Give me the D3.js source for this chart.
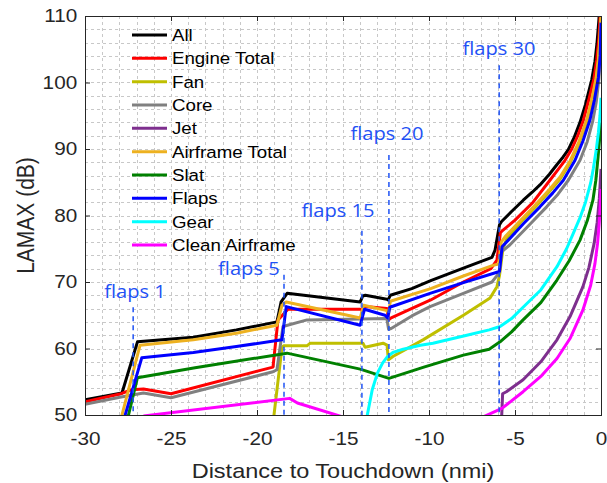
<!DOCTYPE html>
<html>
<head>
<meta charset="utf-8">
<script src="https://cdn.jsdelivr.net/npm/d3@7"></script>
<style>
  body { margin: 0; background: #fff; }
  text { font-family: "Liberation Sans", Arial, sans-serif; fill: #262626; }
</style>
</head>
<body>
<div id="chart"></div>
<script>
// LAMAX (dB) vs distance to touchdown (nmi)
var all = [[-30, 52.3], [-27.85, 53.3], [-26.95, 61.0], [-23.7, 61.7], [-21.2, 62.8], [-18.84, 64.0],
  [-18.6, 67.0], [-18.25, 68.3], [-14.0, 67.0], [-13.85, 67.9], [-13.7, 68.0], [-12.45, 67.4],
  [-12.38, 67.3], [-12.25, 68.0], [-11.0, 69.0], [-9.9, 70.2], [-8.0, 72.1], [-6.34, 73.7],
  [-6.16, 74.8], [-5.9, 78.6], [-5.78, 79.1], [-5.2, 80.6], [-4.52, 82.3], [-4.0, 83.5], [-3.55, 84.6],
  [-3.0, 86.2], [-2.58, 87.6], [-2.2, 88.8], [-1.9, 89.9], [-1.55, 91.8], [-1.22, 94.0], [-0.9, 96.7],
  [-0.54, 100.4], [-0.35, 103.2], [-0.23, 106.0], [-0.12, 109.5], [-0.05, 113]];

var engineTotal = [[-30, 52.0], [-27.9, 53.2], [-27.3, 53.8], [-26.6, 53.9], [-25.0, 53.2], [-19.07, 57.2],
  [-18.78, 64.3], [-18.2, 65.9], [-13.9, 65.9], [-13.7, 66.3], [-12.45, 66.0], [-12.35, 64.3],
  [-12.2, 64.6], [-9.9, 67.3], [-8.0, 70.0], [-6.4, 72.0], [-6.05, 73.3], [-5.85, 77.4], [-5.78, 77.6],
  [-5.0, 79.3], [-3.95, 82.0], [-2.97, 85.3], [-2.5, 86.9], [-2.09, 88.3], [-1.7, 90.0], [-1.35, 92.0],
  [-1.03, 94.3], [-0.7, 97.5], [-0.41, 100.6], [-0.25, 103.4], [-0.12, 106.8], [-0.05, 110], [0, 112]];

var fan = [[-19.15, 47], [-18.55, 60.1], [-18.45, 60.4], [-17.1, 60.4], [-16.9, 60.8], [-13.84, 60.8],
  [-13.72, 60.2], [-12.67, 60.8], [-12.44, 60.5], [-12.36, 58.3], [-12.1, 58.8], [-10.35, 61.3],
  [-8.0, 65.0], [-6.45, 67.6], [-6.05, 69.3], [-5.9, 71.0], [-5.7, 75.0], [-5.5, 76.4], [-4.7, 78.9],
  [-3.74, 81.5], [-3.0, 83.6], [-2.38, 85.5], [-1.8, 87.9], [-1.3, 90.7], [-0.83, 94.1], [-0.55, 97.0],
  [-0.29, 100.3], [-0.15, 103.2], [-0.06, 106.5], [0, 109.7]];

var core = [[-30, 51.6], [-27.9, 52.7], [-26.6, 53.3], [-25.0, 52.6], [-19.07, 56.5], [-18.84, 56.8],
  [-18.49, 63.3], [-17.09, 64.3], [-12.45, 64.5], [-12.35, 62.9], [-12.2, 63.0], [-11.0, 64.9],
  [-9.94, 66.3], [-8.0, 68.3], [-6.34, 70.0], [-6.0, 71.1], [-5.93, 71.3], [-5.8, 74.5], [-5.29, 75.6],
  [-4.2, 78.5], [-3.16, 81.3], [-2.5, 83.2], [-1.9, 85.3], [-1.22, 88.3], [-0.8, 91.1], [-0.48, 94.2],
  [-0.28, 97.0], [-0.12, 100.5], [0, 106.5]];

var jet = [[-5.85, 45], [-5.72, 53.2], [-5.5, 53.5], [-4.53, 55.3], [-3.5, 58.0], [-2.56, 61.3],
  [-1.8, 64.8], [-1.05, 69.3], [-0.7, 72.2], [-0.4, 75.8], [-0.22, 79], [-0.1, 82.5], [0, 87]];

var airframeTotal = [[-28.05, 48], [-26.8, 60.5], [-23.7, 61.3], [-21.2, 62.3], [-18.84, 63.5],
  [-18.55, 66.5], [-18.3, 67.0], [-14.0, 64.6], [-13.8, 66.5], [-12.45, 65.7], [-12.35, 65.2],
  [-12.25, 67.1], [-9.9, 69.0], [-8.0, 70.9], [-6.28, 72.5], [-5.95, 72.7], [-5.8, 76.0], [-5.58, 76.8],
  [-4.7, 79.2], [-3.74, 81.8], [-3.0, 83.9], [-2.38, 85.8], [-1.8, 88.2], [-1.3, 91.0], [-0.83, 94.4],
  [-0.55, 97.3], [-0.29, 100.6], [-0.15, 103.5], [-0.06, 106.8], [0, 110]];

var slat = [[-27.75, 47], [-26.95, 55.6], [-23.6, 57.1], [-18.26, 59.3], [-14.0, 56.9], [-12.33, 55.5],
  [-10.3, 57.2], [-8.0, 59.0], [-6.5, 59.9], [-5.87, 61.0], [-5.2, 62.5], [-4.53, 64.3], [-3.5, 66.9],
  [-2.56, 70.3], [-1.85, 73.2], [-1.22, 76.3], [-0.8, 79.2], [-0.47, 82.3], [-0.3, 85.3], [-0.17, 88.8],
  [-0.07, 91.8], [0, 94]];

var flaps = [[-28.0, 47], [-26.7, 58.6], [-23.7, 59.4], [-21.2, 60.3], [-18.55, 61.3], [-18.3, 66.3],
  [-14.0, 63.5], [-13.75, 65.9], [-12.56, 65.0], [-12.4, 64.6], [-12.28, 66.2], [-9.94, 68.3],
  [-8.0, 69.9], [-6.0, 71.5], [-5.9, 71.6], [-5.75, 75.3], [-5.39, 76.3], [-4.5, 78.8], [-3.55, 81.3],
  [-2.8, 83.4], [-2.19, 85.3], [-1.51, 88.3], [-1.05, 91.2], [-0.64, 94.4], [-0.38, 97.4],
  [-0.15, 100.8], [-0.05, 104], [0, 109]];

var gear = [[-13.8, 47], [-13.55, 50.5], [-13.3, 53.8], [-13.0, 56.3], [-12.7, 57.8], [-12.44, 58.7],
  [-12.1, 59.4], [-11.5, 59.9], [-10.5, 60.5], [-9.77, 60.8], [-7.8, 62.0], [-6.5, 62.8], [-5.87, 63.3],
  [-5.2, 64.5], [-4.53, 66.2], [-3.5, 68.8], [-2.56, 72.3], [-2.0, 75.0], [-1.63, 77.2], [-1.2, 79.8],
  [-0.9, 82.0], [-0.6, 84.9], [-0.45, 87.0], [-0.28, 89.8], [-0.15, 92.5], [-0.06, 95.0], [0, 97.7]];

var cleanAirframe = [[-26.6, 49.85], [-18.1, 52.5], [-17.65, 51.8], [-15.0, 49.7], [-11, 46],
  [-7.2, 49.3], [-5.76, 51.0], [-4.53, 53.5], [-3.5, 55.8], [-2.56, 58.5], [-1.8, 61.5], [-1.05, 65.8],
  [-0.6, 69.5], [-0.35, 72.8], [-0.2, 75.8], [-0.1, 79], [-0.03, 82], [0, 84]];

var seriesNames = ["All", "Engine Total", "Fan", "Core", "Jet", "Airframe Total", "Slat", "Flaps", "Gear", "Clean Airframe"];
var seriesData = [all, engineTotal, fan, core, jet, airframeTotal, slat, flaps, gear, cleanAirframe];
var seriesColors = ["#000000", "#ff0000", "#bfbf00", "#808080", "#7e2f8e", "#edb120", "#008000", "#0000ff", "#00ffff", "#ff00ff"];

// flap settings: position of the dashed line, its top, and label anchor
var flapNames = ["flaps 1", "flaps 5", "flaps 15", "flaps 20", "flaps 30"];
var flapX = [-27.2, -18.43, -13.9, -12.33, -5.92];
var flapTop = [66.2, 71.1, 77.7, 89.1, 102.6];
var flapLabelX = [-27.09, -20.47, -15.29, -12.44, -5.93];
var flapLabelY = [67.6, 71.05, 79.8, 91.35, 104.1];

var xTicks = [-30, -25, -20, -15, -10, -5, 0];
var yTicks = [50, 60, 70, 80, 90, 100, 110];

var W = 607, H = 483;
var pL = 85, pR = 601, pT = 16, pB = 415;
var sx = 1.12; // glyphs in the figure are a bit wide

var svg = d3.select("#chart").append("svg")
    .attr("width", W)
    .attr("height", H);

var x = d3.scaleLinear().domain([-30, 0]).range([pL, pR]);
var y = d3.scaleLinear().domain([50, 110]).range([pB, pT]);

// grid
var grid = svg.append("g").attr("stroke", "#c8c8c8").attr("stroke-dasharray", "3,3").attr("stroke-width", 1);
grid.selectAll("line.gx").data(d3.range(-29, 0, 1)).enter().append("line")
    .attr("x1", function(d){ return Math.round(x(d)) + 0.5; })
    .attr("x2", function(d){ return Math.round(x(d)) + 0.5; })
    .attr("y1", pT).attr("y2", pB);
grid.selectAll("line.gy").data(d3.range(52, 110, 2)).enter().append("line")
    .attr("y1", function(d){ return Math.round(y(d)) + 0.5; })
    .attr("y2", function(d){ return Math.round(y(d)) + 0.5; })
    .attr("x1", pL).attr("x2", pR);

// curves
svg.append("clipPath").attr("id", "plotclip").append("rect")
    .attr("x", pL).attr("y", pT).attr("width", pR - pL).attr("height", pB - pT);

var line = d3.line()
    .x(function(d){ return x(d[0]); })
    .y(function(d){ return y(d[1]); });

svg.append("g").attr("clip-path", "url(#plotclip)")
    .selectAll("path").data(seriesData).enter().append("path")
    .attr("d", line)
    .attr("fill", "none")
    .attr("stroke", function(d, i){ return seriesColors[i]; })
    .attr("stroke-width", 3)
    .attr("stroke-linejoin", "round");

// flap annotations
var flapColor = "#1f52f5";
for (var i = 0; i < flapNames.length; i++) {
    svg.append("line")
        .attr("x1", x(flapX[i])).attr("x2", x(flapX[i]))
        .attr("y1", y(flapTop[i])).attr("y2", pB)
        .attr("stroke", flapColor)
        .attr("stroke-width", 1.5)
        .attr("stroke-dasharray", "5,4");
    svg.append("text")
        .attr("transform", "translate(" + x(flapLabelX[i]) + "," + y(flapLabelY[i]) + ") scale(1.15,1)")
        .attr("text-anchor", "middle")
        .style("font-family", "'Open Sans', sans-serif")
        .style("font-size", "17.5px")
        .style("fill", flapColor)
        .text(flapNames[i]);
}

// axes
var xAxis = svg.append("g").attr("transform", "translate(0," + pB + ")")
    .call(d3.axisBottom(x).tickValues(xTicks).tickSize(-5).tickPadding(17)
        .tickFormat(function(d){ return String(d); }));
var yAxis = svg.append("g").attr("transform", "translate(" + pL + ",0)")
    .call(d3.axisLeft(y).tickValues(yTicks).tickSize(-5).tickPadding(7)
        .tickFormat(function(d){ return String(d); }));
svg.append("g").attr("transform", "translate(0," + pT + ")")
    .call(d3.axisTop(x).tickValues(xTicks).tickSize(-5).tickFormat(""));
svg.append("g").attr("transform", "translate(" + pR + ",0)")
    .call(d3.axisRight(y).tickValues(yTicks).tickSize(-5).tickFormat(""));

svg.selectAll(".domain").remove();
svg.selectAll(".tick line").attr("stroke", "#262626");
[xAxis, yAxis].forEach(function(a){
    a.selectAll("text")
        .style("font-family", "'Liberation Sans', Arial, sans-serif")
        .style("font-size", "18.5px")
        .attr("fill", "#262626")
        .attr("transform", "scale(" + sx + ",1)");
});

svg.append("rect")
    .attr("x", pL + 0.5).attr("y", pT + 0.5)
    .attr("width", pR - pL).attr("height", pB - pT)
    .attr("fill", "none").attr("stroke", "#262626").attr("stroke-width", 1);

svg.append("text")
    .attr("transform", "translate(" + ((pL + pR) / 2) + ",478) scale(" + sx + ",1)")
    .attr("text-anchor", "middle")
    .style("font-size", "21px")
    .text("Distance to Touchdown (nmi)");

svg.append("text")
    .attr("transform", "translate(34," + ((pT + pB) / 2) + ") scale(" + sx + ",1) rotate(-90)")
    .attr("text-anchor", "middle")
    .style("font-size", "21px")
    .text("LAMAX (dB)");

// legend
var legend = svg.append("g");
seriesNames.forEach(function(name, i){
    var ly = 35 + i * 23.33;
    legend.append("line")
        .attr("x1", 132).attr("x2", 167)
        .attr("y1", ly).attr("y2", ly)
        .attr("stroke", seriesColors[i])
        .attr("stroke-width", 3);
    legend.append("text")
        .attr("transform", "translate(172," + (ly + 6) + ") scale(1.1,1)")
        .style("font-size", "17px")
        .style("fill", "#000")
        .text(name);
});
</script>
</body>
</html>
